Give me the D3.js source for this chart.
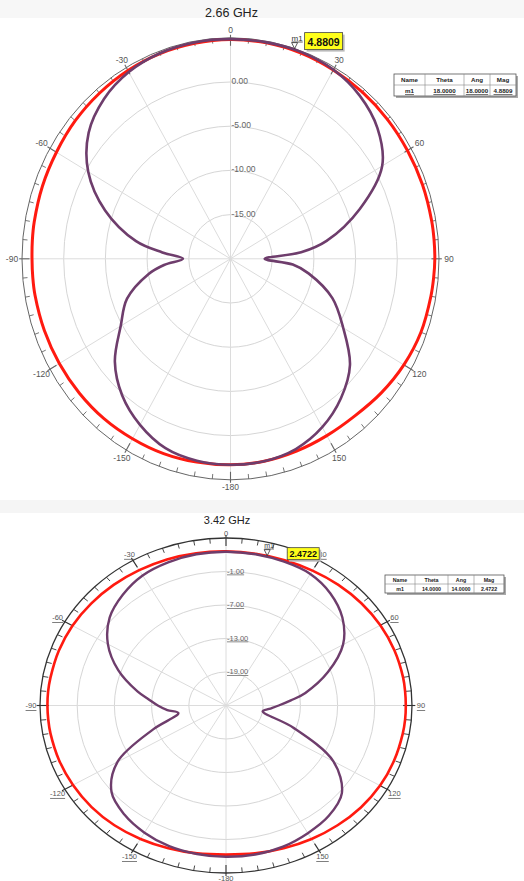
<!DOCTYPE html>
<html>
<head>
<meta charset="utf-8">
<script src="https://cdn.jsdelivr.net/npm/d3@7"></script>
<style>
  body { margin: 0; background: #fff; }
  svg { display: block; font-family: "Liberation Sans", Arial, sans-serif; }
</style>
</head>
<body>
<svg id="chart" width="524" height="881"></svg>
<script>
// ---- data -------------------------------------------------------------
// Sample angles (deg, clockwise from top), finer around the side nulls
const thetaDeg = [-180,-170,-160,-150,-140,-130,-120,-110,-100,-95,-90,-85,-80,-70,-60,-50,-40,-30,-20,-10,
                  0,10,20,30,40,50,60,70,80,85,90,95,100,110,120,130,140,150,160,170];

// 2.66 GHz gain (dB)
const gainA_red    = [3.3,3.35,3.45,3.5,3.6,3.65,3.7,3.75,3.8,3.8,3.8,3.85,3.9,4.0,4.1,4.3,4.45,4.6,4.7,4.75,
                      4.8,4.8,4.75,4.65,4.6,4.55,4.5,4.5,4.5,4.5,4.5,4.45,4.4,4.3,4.0,3.6,3.2,3.1,3.15,3.25];
const gainA_purple = [3.3,3.2,2.8,1.7,0.2,-1.9,-4.8,-6.8,-10.0,-12.0,-14.3,-11.8,-8.5,-4.0,-0.3,2.2,3.6,4.4,4.75,4.85,
                      4.85,4.86,4.88,4.7,4.1,3.0,1.0,-3.5,-8.3,-11.5,-15.9,-12.5,-10.5,-7.0,-4.4,-1.3,0.6,2.0,2.9,3.25];

// 3.42 GHz gain (dB)
const gainB_red    = [1.7,1.9,2.2,2.6,3.0,3.3,3.5,3.65,3.75,3.78,3.8,3.8,3.75,3.7,3.6,3.4,3.2,3.0,2.85,2.7,
                      2.6,2.6,2.7,2.9,3.2,3.5,3.75,3.9,4.0,4.0,4.0,4.0,3.95,3.85,3.7,3.4,3.0,2.6,2.2,1.9];
const gainB_purple = [2.1,2.0,1.8,1.3,0.5,-0.9,-4.8,-12.5,-17.2,-15.5,-14.0,-12.5,-10.5,-6.5,-3.0,-0.5,0.9,1.9,2.3,2.5,
                      2.55,2.5,2.4,2.2,1.2,-0.5,-3.2,-7.5,-12.0,-14.5,-16.5,-18.0,-19.0,-13.5,-5.0,-0.6,0.8,1.4,1.9,2.1];

// Axes
const angleTicks = [0,30,60,90,120,150,-180,-150,-120,-90,-60,-30];
const ringsA = [-15,-10,-5,0];
const ringsB = [-19,-13,-7,-1];
const rangeA = [-20,5];
const rangeB = [-25,5];

// Markers and marker tables
const tableHeader = ["Name","Theta","Ang","Mag"];
const markerA = ["m1","18.0000","18.0000","4.8809"];
const markerB = ["m1","14.0000","14.0000","2.4722"];
const markerA_theta = 18, markerA_mag = 4.8809;
const markerB_theta = 14, markerB_mag = 2.4722;

const titles = ["2.66 GHz","3.42 GHz"];

// ---- drawing ----------------------------------------------------------
const svg = d3.select("#chart");
const RED = "#ff1a10", PURPLE = "#6e3d6c";

svg.append("rect").attr("x",0).attr("y",0).attr("width",524).attr("height",18).attr("fill","#f7f7f7");
svg.append("rect").attr("x",0).attr("y",500).attr("width",524).attr("height",13).attr("fill","#f5f5f5");

function drawPolar(cfg) {
  const g = svg.append("g");
  const r = d3.scaleLinear().domain(cfg.range).range([0,1]);
  const rad = d => d * Math.PI / 180;
  const px = (t, v) => cfg.cx + cfg.rx * v * Math.sin(rad(t));
  const py = (t, v) => cfg.cy - cfg.ry * v * Math.cos(rad(t));

  // rings
  cfg.rings.forEach(d => {
    g.append("ellipse").attr("cx",cfg.cx).attr("cy",cfg.cy)
      .attr("rx",cfg.rx*r(d)).attr("ry",cfg.ry*r(d))
      .attr("fill","none").attr("stroke","#d6d6d6").attr("stroke-width",1);
  });
  // spokes
  d3.range(0,360,30).forEach(t => {
    g.append("line").attr("x1",cfg.cx).attr("y1",cfg.cy)
      .attr("x2",px(t,1)).attr("y2",py(t,1))
      .attr("stroke","#dcdcdc").attr("stroke-width",1);
  });
  // outer circle
  g.append("ellipse").attr("cx",cfg.cx).attr("cy",cfg.cy).attr("rx",cfg.rx).attr("ry",cfg.ry)
    .attr("fill","none").attr("stroke",cfg.axisColor).attr("stroke-width",cfg.axisWidth);
  // ticks every 5 deg
  d3.range(0,360,5).forEach(t => {
    const major = t % 30 === 0;
    const kIn = 1 - (major ? cfg.majorIn : cfg.minorIn) / cfg.ry;
    const kOut = 1 + (major ? 3 : 0) / cfg.ry;
    g.append("line")
      .attr("x1",px(t,kOut)).attr("y1",py(t,kOut))
      .attr("x2",px(t,kIn)).attr("y2",py(t,kIn))
      .attr("stroke",cfg.axisColor).attr("stroke-width",major ? 1.1 : 0.9);
  });
  // angle labels
  angleTicks.forEach(t => {
    const off = cfg.labelOff + cfg.labelOffX * Math.abs(Math.sin(rad(t)));
    const dx = (cfg.rx + off) * Math.sin(rad(t));
    const dy = (cfg.ry + off) * Math.cos(rad(t));
    g.append("text").attr("x",cfg.cx + dx).attr("y",cfg.cy - dy)
      .attr("text-anchor","middle").attr("dominant-baseline","central")
      .attr("font-size",cfg.labelSize).attr("fill","#555")
      .attr("text-decoration",cfg.underline ? "underline" : null)
      .text(t);
  });
  // ring labels
  cfg.rings.forEach(d => {
    g.append("text").attr("x",cfg.cx + 1).attr("y",cfg.cy - cfg.ry*r(d) + 2)
      .attr("font-size",cfg.ringSize).attr("fill","#666")
      .attr("text-decoration",cfg.underline ? "underline" : null)
      .text(d.toFixed(2));
  });

  // traces
  const line = d3.line().curve(d3.curveCatmullRomClosed.alpha(0.5));
  const pts = vals => thetaDeg.map((t,i) => [px(t, r(vals[i])), py(t, r(vals[i]))]);
  g.append("path").attr("d", line(pts(cfg.red)))
    .attr("fill","none").attr("stroke",RED).attr("stroke-width",cfg.redW);
  g.append("path").attr("d", line(pts(cfg.purple)))
    .attr("fill","none").attr("stroke",PURPLE).attr("stroke-width",cfg.purW);

  // title
  svg.append("text").attr("x",cfg.cx + 1).attr("y",cfg.titleY)
    .attr("text-anchor","middle").attr("font-size",cfg.titleSize).attr("fill","#222")
    .text(cfg.title);

  // marker
  const mx = px(cfg.mTheta, r(cfg.mMag)), my = py(cfg.mTheta, r(cfg.mMag));
  g.append("path")
    .attr("d", `M${mx-3},${my-7}L${mx+3},${my-7}L${mx},${my-1}Z`)
    .attr("fill","none").attr("stroke","#333").attr("stroke-width",0.8);
  g.append("text").attr("x",mx-3).attr("y",my-9).attr("font-size",cfg.mSize)
    .attr("fill","#333").attr("text-decoration","underline").text(cfg.table[0]);
  const b = cfg.box;
  g.append("rect").attr("x",mx+b.dx+2).attr("y",my+b.dy+2).attr("width",b.w).attr("height",b.h).attr("fill","#bbb");
  g.append("rect").attr("x",mx+b.dx).attr("y",my+b.dy).attr("width",b.w).attr("height",b.h)
    .attr("fill","#ffff1a").attr("stroke","#444").attr("stroke-width",0.8);
  g.append("text").attr("x",mx+b.dx+b.w/2).attr("y",my+b.dy+b.h/2+0.5)
    .attr("text-anchor","middle").attr("dominant-baseline","central")
    .attr("font-size",b.fs).attr("font-weight","bold").attr("fill","#111")
    .text(cfg.table[3]);

  // marker table
  const T = cfg.tbl;
  g.append("rect").attr("x",T.x[0]+2).attr("y",T.y[0]+2)
    .attr("width",T.x[4]-T.x[0]).attr("height",T.y[2]-T.y[0]).attr("fill","#aaa");
  g.append("rect").attr("x",T.x[0]).attr("y",T.y[0])
    .attr("width",T.x[4]-T.x[0]).attr("height",T.y[2]-T.y[0])
    .attr("fill","#fff").attr("stroke","#555").attr("stroke-width",0.8);
  g.append("line").attr("x1",T.x[0]).attr("x2",T.x[4]).attr("y1",T.y[1]).attr("y2",T.y[1])
    .attr("stroke","#888").attr("stroke-width",0.6);
  [1,2,3].forEach(i => g.append("line").attr("x1",T.x[i]).attr("x2",T.x[i])
    .attr("y1",T.y[0]).attr("y2",T.y[2]).attr("stroke","#888").attr("stroke-width",0.6));
  [tableHeader, cfg.table].forEach((row,ri) => {
    row.forEach((txt,ci) => {
      g.append("text").attr("x",(T.x[ci]+T.x[ci+1])/2).attr("y",(T.y[ri]+T.y[ri+1])/2)
        .attr("text-anchor","middle").attr("dominant-baseline","central")
        .attr("font-size",T.fs).attr("font-weight","bold").attr("fill","#222")
        .attr("text-decoration", ri === 1 && cfg.underlineRow ? "underline" : null)
        .text(txt);
    });
  });
}

drawPolar({
  cx: 230.5, cy: 258.8, rx: 208.5, ry: 221, range: rangeA, rings: ringsA,
  red: gainA_red, purple: gainA_purple, redW: 3, purW: 2.6,
  axisColor: "#666", axisWidth: 1, majorIn: 8, minorIn: 5,
  labelOff: 7.5, labelOffX: 2.5, labelSize: 8.5, ringSize: 8.5, underline: false,
  title: titles[0], titleY: 17, titleSize: 12.5,
  mTheta: markerA_theta, mMag: markerA_mag, mSize: 8,
  box: {dx: 10, dy: -17, w: 38, h: 17, fs: 10.5},
  table: markerA, underlineRow: true,
  tbl: {x: [394,425,464,490,516], y: [74,85,96], fs: 6.2}
});

drawPolar({
  cx: 226, cy: 705.5, rx: 186, ry: 167.5, range: rangeB, rings: ringsB,
  red: gainB_red, purple: gainB_purple, redW: 2.6, purW: 2.4,
  axisColor: "#333", axisWidth: 1.3, majorIn: 8, minorIn: 5,
  labelOff: 5, labelOffX: 4, labelSize: 7.5, ringSize: 7.5, underline: true,
  title: titles[1], titleY: 524, titleSize: 11,
  mTheta: markerB_theta, mMag: markerB_mag, mSize: 7,
  box: {dx: 20, dy: -9, w: 32, h: 12, fs: 9},
  table: markerB, underlineRow: false,
  tbl: {x: [385,415,448,474,504], y: [575,584,593], fs: 5.3}
});
</script>
</body>
</html>
